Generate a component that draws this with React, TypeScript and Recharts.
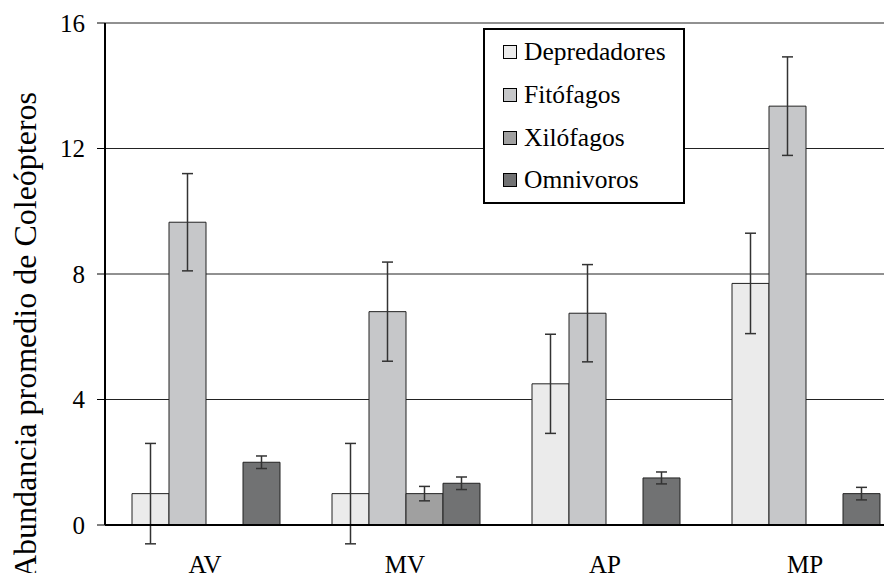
import React from 'react';
import { BarChart, Bar, XAxis, YAxis, CartesianGrid, ErrorBar, Legend } from 'recharts';

const sites = ['AV', 'MV', 'AP', 'MP'];
const seriesNames = ['Depredadores', 'Fitófagos', 'Xilófagos', 'Omnivoros'];
const depredadores = [1.0, 1.0, 4.5, 7.7];
const depredadoresErr = [1.6, 1.6, 1.58, 1.6];
const fitofagos = [9.65, 6.8, 6.75, 13.35];
const fitofagosErr = [1.55, 1.58, 1.55, 1.57];
const xilofagos = [0, 1.0, 0, 0];
const xilofagosErr = [0.25, 0.23, 0.25, 0.25];
const omnivoros = [2.0, 1.33, 1.5, 1.0];
const omnivorosErr = [0.2, 0.2, 0.19, 0.2];
const yTicks = [0, 4, 8, 12, 16];
const boundaryTicks = [0, 1, 2, 3, 4];

const data = sites.map((site, i) => ({
  site,
  dep: depredadores[i],
  depErr: depredadoresErr[i],
  fit: fitofagos[i],
  fitErr: fitofagosErr[i],
  xil: xilofagos[i],
  xilErr: xilofagosErr[i],
  omn: omnivoros[i],
  omnErr: omnivorosErr[i],
}));

const FONT = 'Liberation Serif';

const renderLegend = (props: any) => {
  // keep the drawing order, not alphabetical
  const items = [...props.payload].sort(
    (a: any, b: any) => seriesNames.indexOf(a.value) - seriesNames.indexOf(b.value)
  );
  return (
    <div
      style={{
        width: 202,
        height: 176,
        boxSizing: 'border-box',
        border: '2px solid #000',
        background: '#fff',
        paddingTop: 1,
        fontFamily: FONT,
        fontSize: 25.5,
        color: '#000',
      }}
    >
      {items.map((entry: any) => (
        <div key={entry.value} style={{ height: 42.7, display: 'flex', alignItems: 'center', paddingLeft: 18 }}>
          <span
            style={{
              width: 14,
              height: 14,
              boxSizing: 'border-box',
              border: '1.5px solid #000',
              background: entry.color,
              marginRight: 7,
              display: 'inline-block',
            }}
          />
          <span>{entry.value}</span>
        </div>
      ))}
    </div>
  );
};

const yLabel = () => (
  <text x={36} y={335} transform="rotate(-90, 36, 335)" textAnchor="middle" fontFamily={FONT} fontSize={32} fill="#000">
    Abundancia promedio de Coleópteros
  </text>
);

const App: React.FC = () => (
  <div style={{ margin: -8, width: 892, height: 581, overflow: 'hidden', background: '#fff' }}>
    <BarChart
      width={910}
      height={581}
      data={data}
      margin={{ top: 23, right: 5, bottom: 54, left: 0 }}
      barCategoryGap="13.5%"
      barGap={0}
    >
      <CartesianGrid vertical={false} stroke="#222" xAxisId="cat" />
      <XAxis
        xAxisId="num"
        type="number"
        domain={[0, 4]}
        ticks={boundaryTicks}
        tick={false}
        tickSize={8}
        axisLine={false}
        tickLine={{ stroke: '#000', strokeWidth: 1.5 }}
        height={1}
      />
      <XAxis
        xAxisId="cat"
        dataKey="site"
        height={1}
        tickSize={0}
        tickLine={false}
        tickMargin={30}
        axisLine={{ stroke: '#000', strokeWidth: 2 }}
        tick={{ fontFamily: FONT, fontSize: 25, fill: '#000' }}
      />
      <YAxis
        width={105}
        domain={[0, 16]}
        ticks={yTicks}
        allowDataOverflow
        tickSize={8}
        tickMargin={12}
        axisLine={{ stroke: '#000', strokeWidth: 2 }}
        tickLine={{ stroke: '#000', strokeWidth: 1 }}
        tick={{ fontFamily: FONT, fontSize: 25, fill: '#000' }}
        label={yLabel}
      />
      <Legend
        content={renderLegend}
        layout="vertical"
        align="center"
        verticalAlign="middle"
        wrapperStyle={{ top: 28, left: 483, width: 'auto' }}
      />
      <Bar xAxisId="cat" dataKey="dep" name="Depredadores" fill="#ebebeb" stroke="#222" strokeWidth={1} isAnimationActive={false}>
        <ErrorBar dataKey="depErr" width={5.5} stroke="#333" strokeWidth={1.5} direction="y" />
      </Bar>
      <Bar xAxisId="cat" dataKey="fit" name="Fitófagos" fill="#c6c7c9" stroke="#222" strokeWidth={1} isAnimationActive={false}>
        <ErrorBar dataKey="fitErr" width={5.5} stroke="#333" strokeWidth={1.5} direction="y" />
      </Bar>
      <Bar xAxisId="cat" dataKey="xil" name="Xilófagos" fill="#a0a0a0" stroke="#222" strokeWidth={1} isAnimationActive={false}>
        <ErrorBar dataKey="xilErr" width={5.5} stroke="#333" strokeWidth={1.5} direction="y" />
      </Bar>
      <Bar xAxisId="cat" dataKey="omn" name="Omnivoros" fill="#717273" stroke="#222" strokeWidth={1} isAnimationActive={false}>
        <ErrorBar dataKey="omnErr" width={5.5} stroke="#333" strokeWidth={1.5} direction="y" />
      </Bar>
    </BarChart>
  </div>
);

export default App;
